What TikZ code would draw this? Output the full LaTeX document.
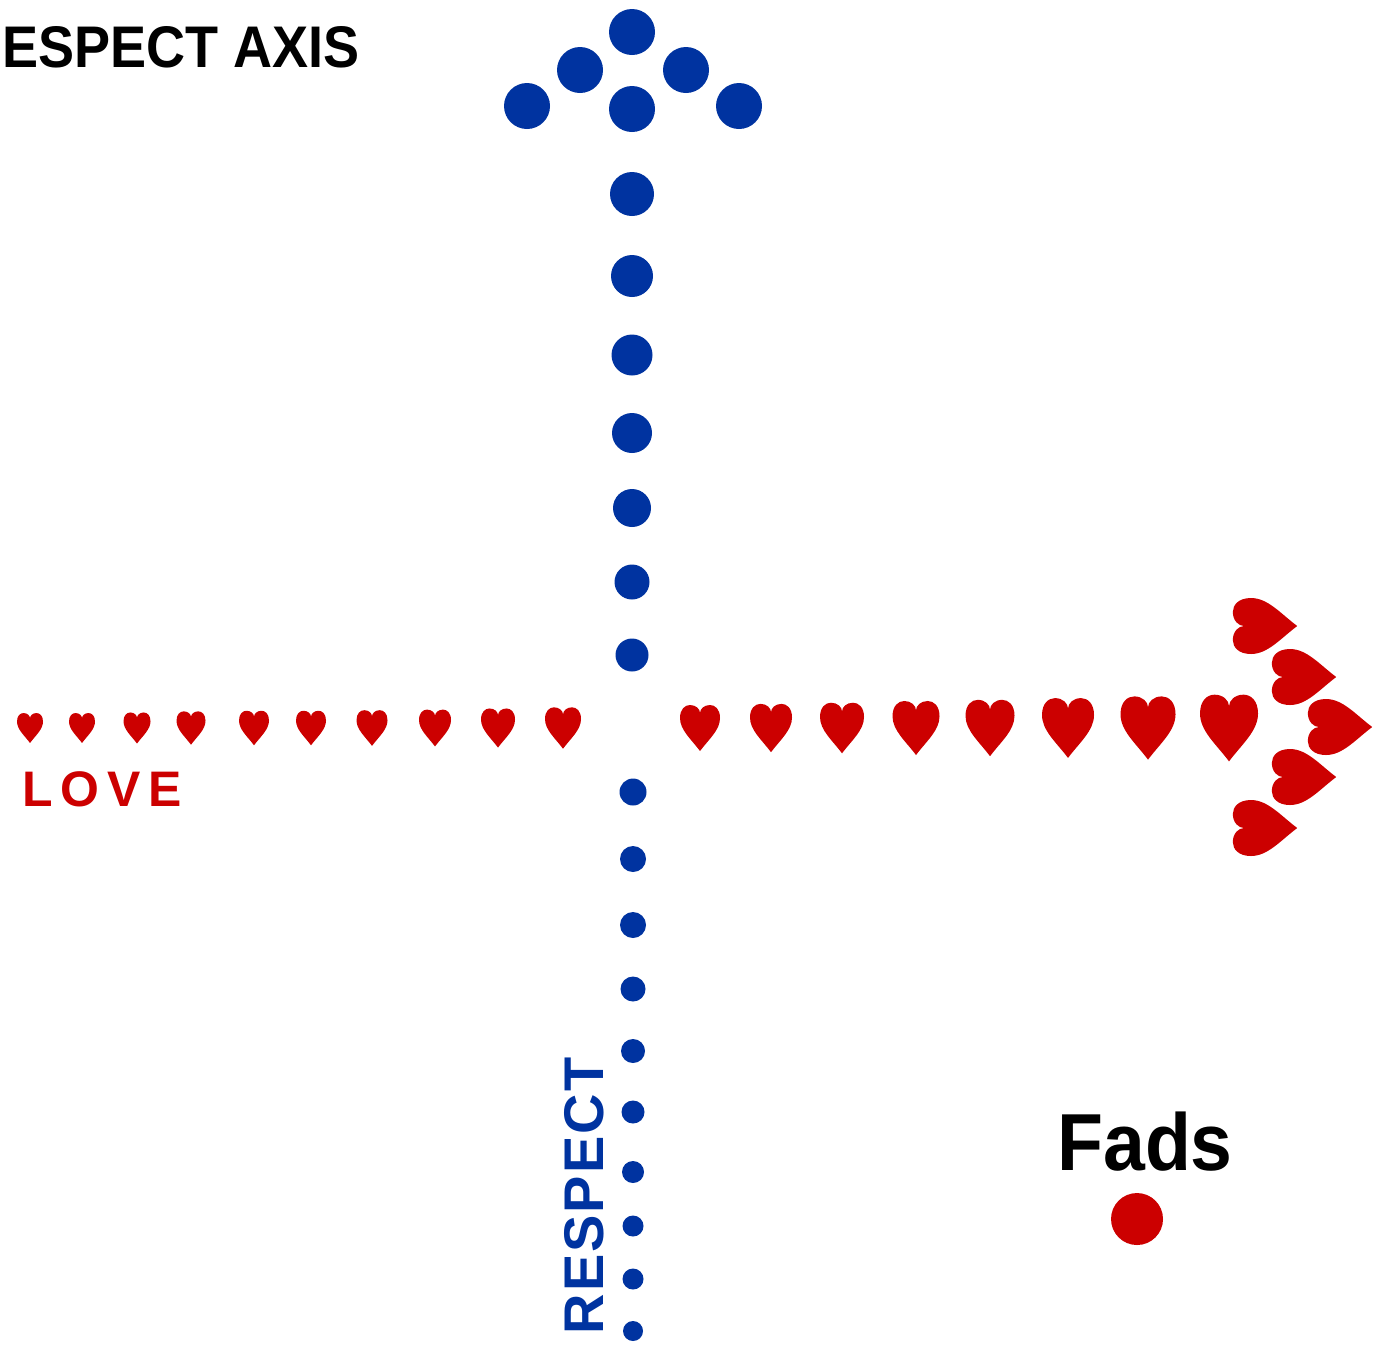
\documentclass[tikz,border=0pt]{standalone}
\usepackage{fontspec}
\setmainfont{Liberation Sans}
\definecolor{axisblue}{RGB}{0,51,160}
\definecolor{lovered}{RGB}{204,0,0}
\tikzset{
  heart/.pic={
    \fill[lovered] (0,-1.15) .. controls (-0.45,-0.55) and (-1,-0.1) .. (-1,0.5)
      .. controls (-1,0.95) and (-0.75,1.15) .. (-0.5,1.15)
      .. controls (-0.2,1.15) and (0,0.95) .. (0,0.75)
      .. controls (0,0.95) and (0.2,1.15) .. (0.5,1.15)
      .. controls (0.75,1.15) and (1,0.95) .. (1,0.5)
      .. controls (1,-0.1) and (0.45,-0.55) .. (0,-1.15) -- cycle;
  },
  bluedot/.style={fill=axisblue},
  labeltext/.style={inner sep=0pt, font=\bfseries}
}
\begin{document}
\begin{tikzpicture}[x=0.01cm,y=0.01cm]
\useasboundingbox (0,0) rectangle (1383,-1348);
% title
\node[labeltext, anchor=base west, font=\bfseries\fontsize{16.7}{20}\selectfont] (title) at (2,-67) {\scalebox{0.92}[1]{ESPECT AXIS}};
% blue arrowhead
\foreach \x/\y in {632/32, 580/70, 686/70, 527/106, 632/109, 739/106}
  \fill[bluedot] (\x,-\y) circle (23);
% blue stem upper
\foreach \y/\r in {194/22, 276/21, 355/20.5, 433/20, 508/19, 582/17.5, 655/16.5}
  \fill[bluedot] (632,-\y) circle (\r);
% blue stem lower
\foreach \y/\r in {792/13.5, 859/13, 925/13, 989/12.5, 1051/12, 1112/11.5, 1172/11, 1226/10.5, 1279/10.5, 1331/10}
  \fill[bluedot] (633,-\y) circle (\r);
% left hearts
\foreach \x/\s in {30/13, 82/13, 137/13.5, 191/14.5, 254/15, 311/15, 372/15.5, 435/16, 498/17, 563/18}
  \pic[scale=\s] at (\x,-728) {heart};
% right hearts
\foreach \x/\s in {700/20, 771/21, 842/22, 916/23.5, 990/24.5, 1068/26, 1148/27.5, 1229/29}
  \pic[scale=\s] at (\x,-728) {heart};
% heart arrowhead
\foreach \x/\y in {1265/626, 1304/677, 1340/727, 1304/777, 1265/828}
  \pic[scale=28, rotate=90] at (\x,-\y) {heart};
% labels
\node[labeltext, anchor=base west, text=lovered, font=\bfseries\fontsize{14.2}{17}\selectfont] (love) at (22,-806) {L\kern2.2pt O\kern2.2pt V\kern2.2pt E};
\node[labeltext, anchor=base west, rotate=90, text=axisblue, font=\bfseries\fontsize{15.9}{19}\selectfont] (respect) at (603,-1335) {R\kern0.6pt E\kern0.6pt S\kern0.6pt P\kern0.6pt E\kern0.6pt C\kern0.6pt T};
\node[labeltext, anchor=base, font=\bfseries\fontsize{23}{27}\selectfont] (fads) at (1145,-1170) {\scalebox{0.93}[1]{Fads}};
\fill[lovered] (1137,-1219) circle (26);
\end{tikzpicture}
\end{document}
